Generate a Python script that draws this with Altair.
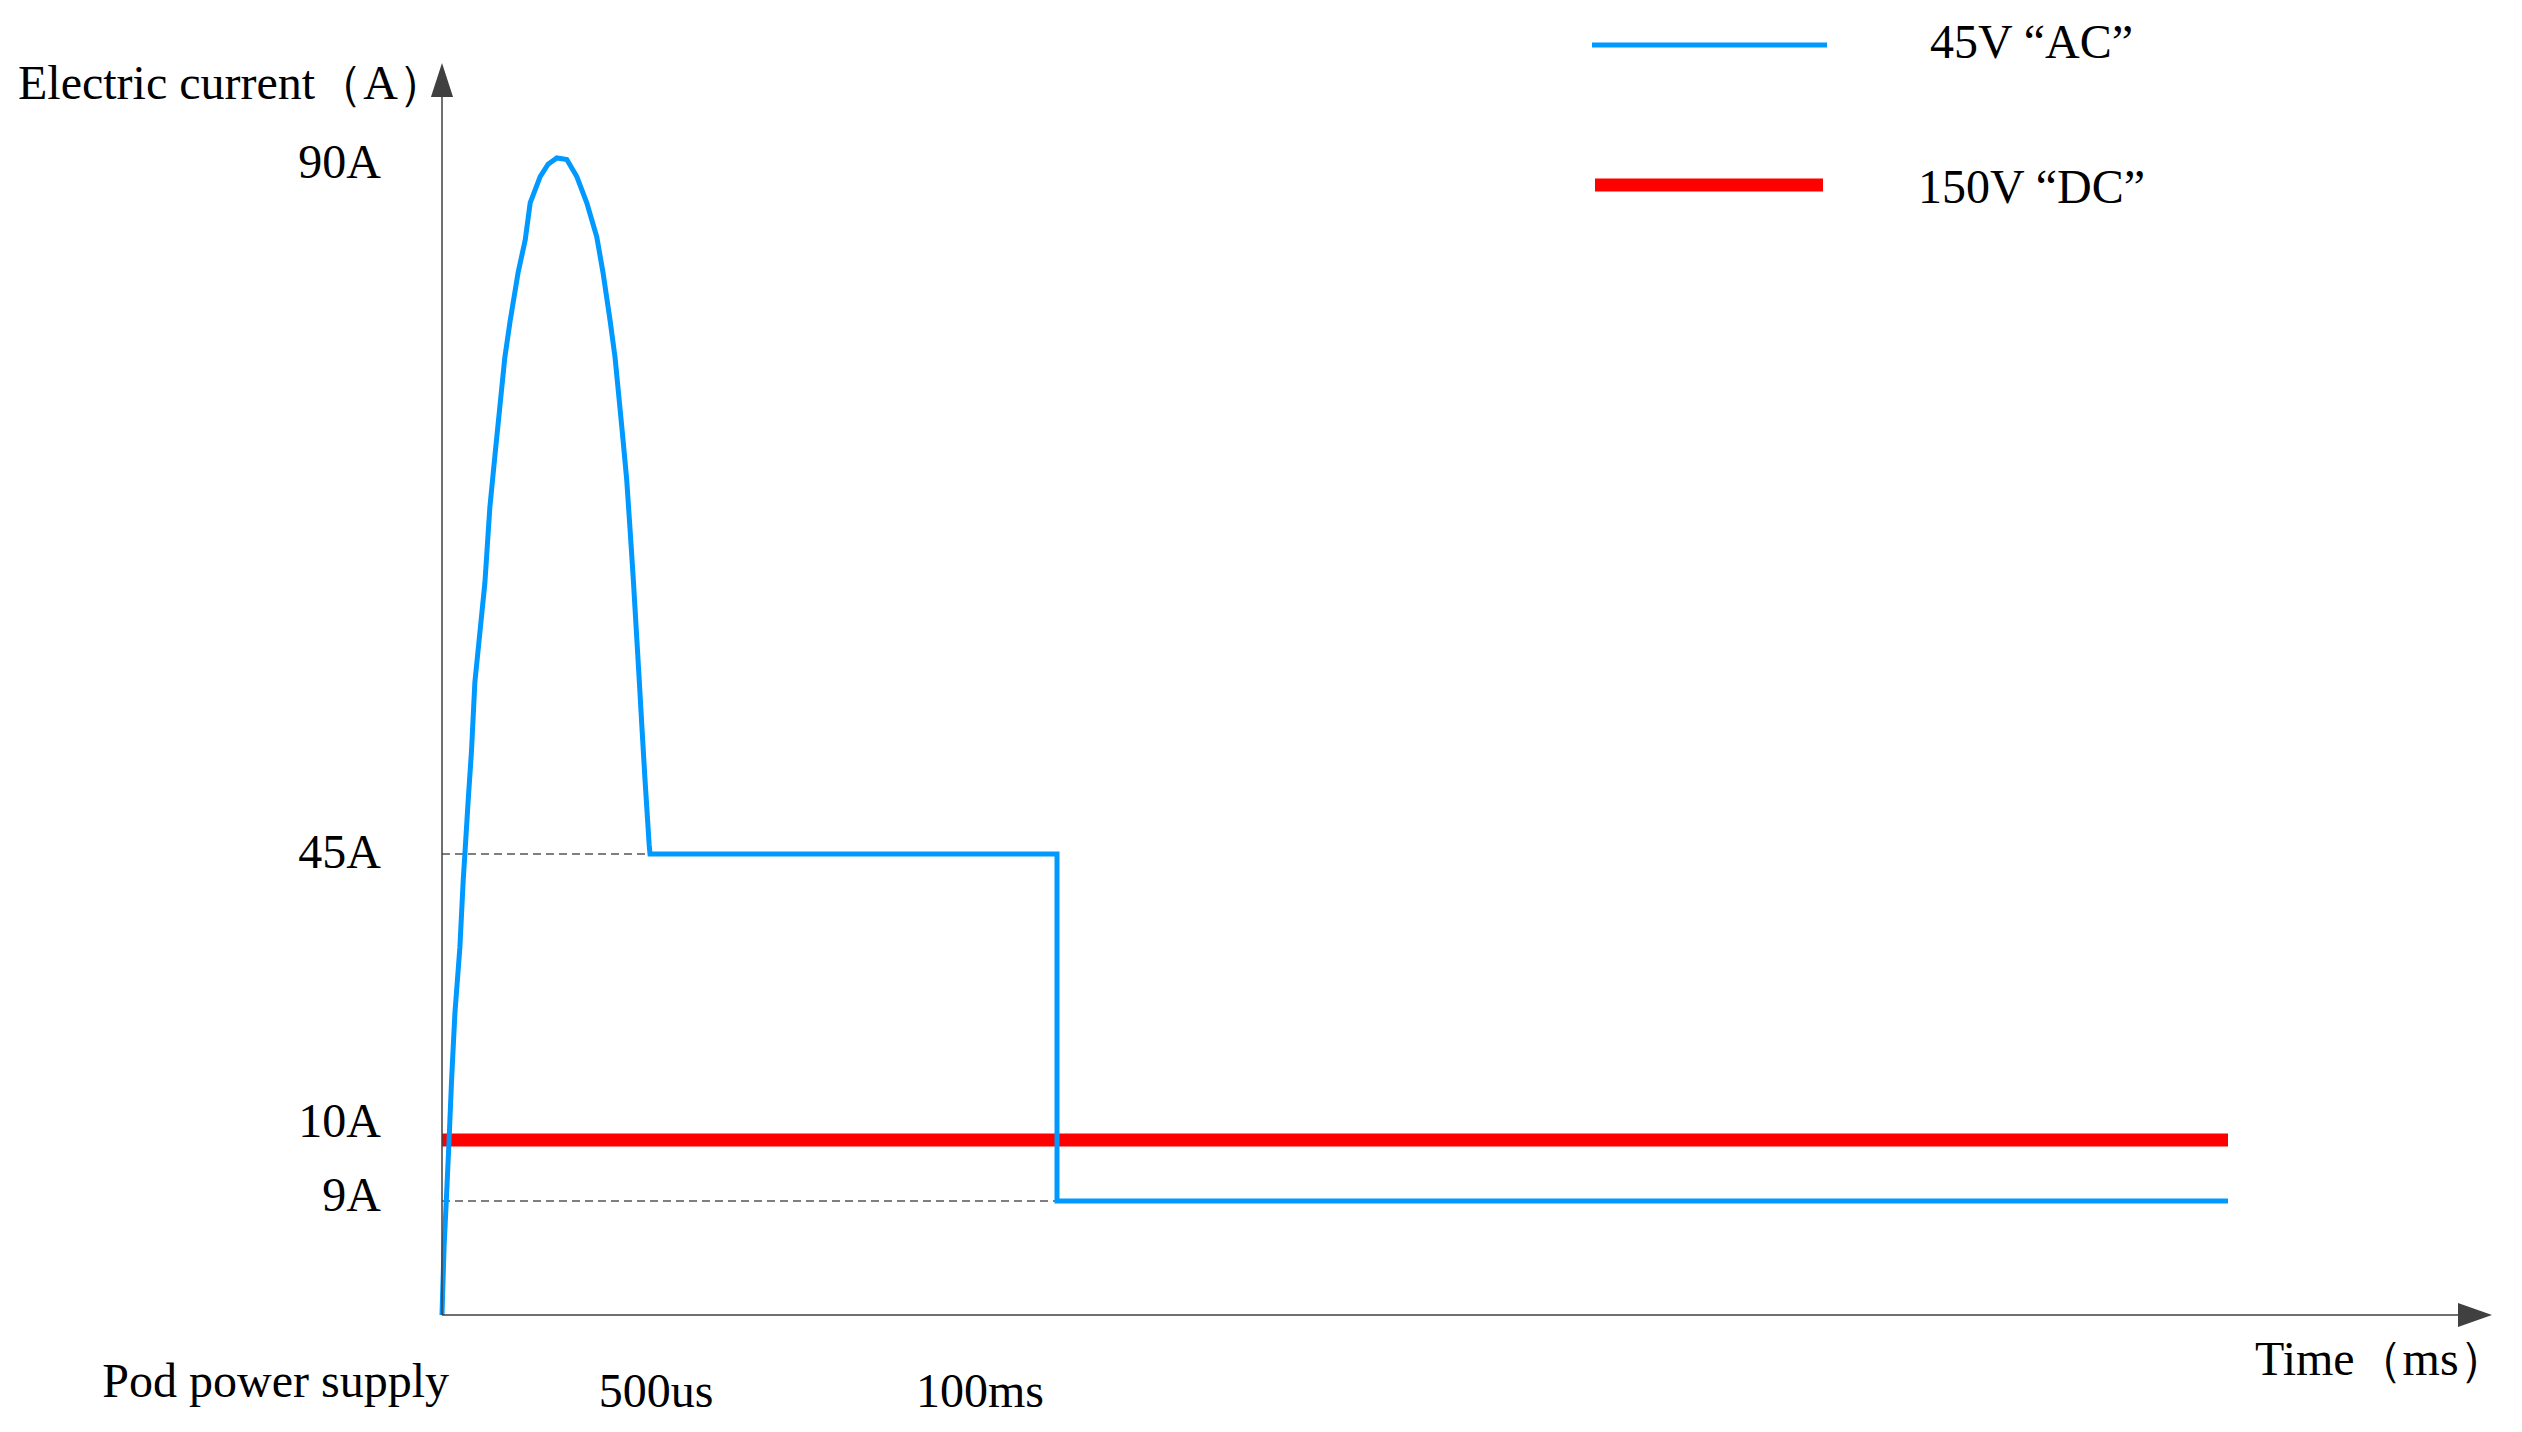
import altair as alt
import pandas as pd

# ---- data ----
# 45V "AC" current trace: time (ms) and current (A)
ac_time = [0, 0.005, 0.011, 0.017, 0.023, 0.031, 0.043, 0.051, 0.055,
           0.063, 0.071, 0.079, 0.091, 0.103, 0.115, 0.127, 0.139, 0.151, 0.164,
           0.183, 0.200, 0.212, 0.236, 0.255, 0.276, 0.300, 0.324, 0.348, 0.372,
           0.387, 0.404, 0.416, 0.433, 0.444, 0.452, 0.460, 0.467, 0.474, 0.481,
           0.488, 0.498, 0.5, 100, 100, 400]
ac_current = [0, 5.4, 9.1, 10, 17.3, 25.5, 33.6, 41.8, 45,
              48.5, 51.7, 56.1, 59.3, 62.5, 67.4, 70.7, 73.9, 77.1, 79.5,
              82.6, 84.7, 87.1, 88.8, 89.6, 90.0, 89.9, 88.8, 87.1, 84.9,
              82.6, 79.5, 77.1, 72.4, 69.2, 66.0, 62.7, 59.5, 56.3, 53.0,
              49.8, 45.6, 45, 45, 9, 9]

# 150V "DC" current trace
dc_time = [0, 400]
dc_current = [10, 10]

# dashed guide lines
guide_current = [45, 9]
guide_from = [0, 0]
guide_to = [0.5, 100]

# axis labels
y_ticks = [90, 45, 10, 9]
y_tick_labels = ["90A", "45A", "10A", "9A"]
x_ticks = [0, 0.5, 100]
x_tick_labels = ["Pod power supply", "500us", "100ms"]

series_names = ["45V “AC”", "150V “DC”"]
series_colors = ["#0099ff", "#ff0000"]

y_title = "Electric current（A）"
x_title = "Time（ms）"

# ---- layout ----
W, H = 2050, 1252
FONT = "Liberation Serif"
FS = 48
AXC = "#404040"

# schematic (piecewise) scales, as in the drawing
xs = alt.Scale(domain=[0, 0.5, 100, 400], range=[0, 208, 615, 1786], nice=False, zero=False)
ys = alt.Scale(domain=[0, 9, 10, 45, 90], range=[H, 1138, 1077, 791, 95], nice=False, zero=False)

ac_df = pd.DataFrame({"t": ac_time, "a": ac_current, "i": list(range(len(ac_time)))})
dc_df = pd.DataFrame({"t": dc_time, "a": dc_current})
guide_df = pd.DataFrame({"a": guide_current, "t0": guide_from, "t1": guide_to})
ytick_df = pd.DataFrame({"v": y_ticks, "label": y_tick_labels})
xtick_df = pd.DataFrame({"t": x_ticks, "label": x_tick_labels})
one = pd.DataFrame({"k": [0]})

guides = alt.Chart(guide_df).mark_rule(color="#555555", strokeWidth=1.3, strokeDash=[8, 5]).encode(
    x=alt.X("t0:Q", scale=xs, axis=None),
    x2="t1:Q",
    y=alt.Y("a:Q", scale=ys, axis=None),
)

dc_line = alt.Chart(dc_df).mark_line(color=series_colors[1], strokeWidth=13, strokeCap="butt").encode(
    x=alt.X("t:Q", scale=xs, axis=None),
    y=alt.Y("a:Q", scale=ys, axis=None),
)

ac_line = alt.Chart(ac_df).mark_line(color=series_colors[0], strokeWidth=5, strokeCap="butt",
                                     strokeJoin="miter").encode(
    x=alt.X("t:Q", scale=xs, axis=None),
    y=alt.Y("a:Q", scale=ys, axis=None),
    order="i:Q",
)

# axes lines and arrows
y_axis = alt.Chart(one).mark_rule(color=AXC, strokeWidth=1.5).encode(
    x=alt.value(0), y=alt.value(20), y2=alt.value(H))
x_axis = alt.Chart(one).mark_rule(color=AXC, strokeWidth=1.5).encode(
    x=alt.value(0), x2=alt.value(W - 20), y=alt.value(H))
y_arrow = alt.Chart(one).mark_point(shape="M0,-1L0.65,1L-0.65,1Z", size=1156, filled=True,
                                    color=AXC, opacity=1).encode(
    x=alt.value(0), y=alt.value(17))
x_arrow = alt.Chart(one).mark_point(shape="M1,0L-1,0.7L-1,-0.7Z", size=1156, filled=True,
                                    color=AXC, opacity=1).encode(
    x=alt.value(W - 17), y=alt.value(H))

# tick labels
ytext = alt.Chart(ytick_df).mark_text(
    font=FONT, fontSize=FS, color="black", align="right", baseline="middle",
    dy=alt.ExprRef("datum.v == 10 ? -17 : datum.v == 9 ? -4 : datum.v == 90 ? 6 : 0"),
).encode(
    x=alt.value(-61),
    y=alt.Y("v:Q", scale=ys, axis=None),
    text="label:N",
)

xtext = alt.Chart(xtick_df).mark_text(
    font=FONT, fontSize=FS, color="black", baseline="middle",
    align=alt.ExprRef("datum.t == 0 ? 'right' : 'center'"),
    dx=alt.ExprRef("datum.t == 0 ? 7 : datum.t == 100 ? -77 : 6"),
    dy=alt.ExprRef("datum.t == 0 ? -10 : 0"),
).encode(
    x=alt.X("t:Q", scale=xs, axis=None),
    y=alt.value(H + 78),
    text="label:N",
)

ytitle = alt.Chart(one).mark_text(text=y_title, font=FONT, fontSize=FS, color="black",
                                  align="left", baseline="middle").encode(
    x=alt.value(-424), y=alt.value(22))
xtitle = alt.Chart(one).mark_text(text=x_title, font=FONT, fontSize=FS, color="black",
                                  align="left", baseline="middle").encode(
    x=alt.value(1813), y=alt.value(H + 46))

# legend (drawn by hand, top right)
leg_ac = alt.Chart(one).mark_rule(color=series_colors[0], strokeWidth=5).encode(
    x=alt.value(1150), x2=alt.value(1385), y=alt.value(-18))
leg_dc = alt.Chart(one).mark_rule(color=series_colors[1], strokeWidth=13).encode(
    x=alt.value(1153), x2=alt.value(1381), y=alt.value(122))
leg_ac_t = alt.Chart(one).mark_text(text=series_names[0], font=FONT, fontSize=FS, color="black",
                                    align="left", baseline="middle").encode(
    x=alt.value(1488), y=alt.value(-19))
leg_dc_t = alt.Chart(one).mark_text(text=series_names[1], font=FONT, fontSize=FS, color="black",
                                    align="left", baseline="middle").encode(
    x=alt.value(1476), y=alt.value(126))

chart = alt.layer(
    guides, dc_line, ac_line, y_axis, x_axis, y_arrow, x_arrow,
    ytext, xtext, ytitle, xtitle, leg_ac, leg_dc, leg_ac_t, leg_dc_t,
).properties(
    width=W, height=H,
    autosize=alt.AutoSizeParams(type="none"),
    padding={"left": 434, "top": 55, "right": 22, "bottom": 106},
    background="white",
).configure_view(stroke=None)

chart.save("out.html", embed_options={"renderer": "svg", "actions": False})
